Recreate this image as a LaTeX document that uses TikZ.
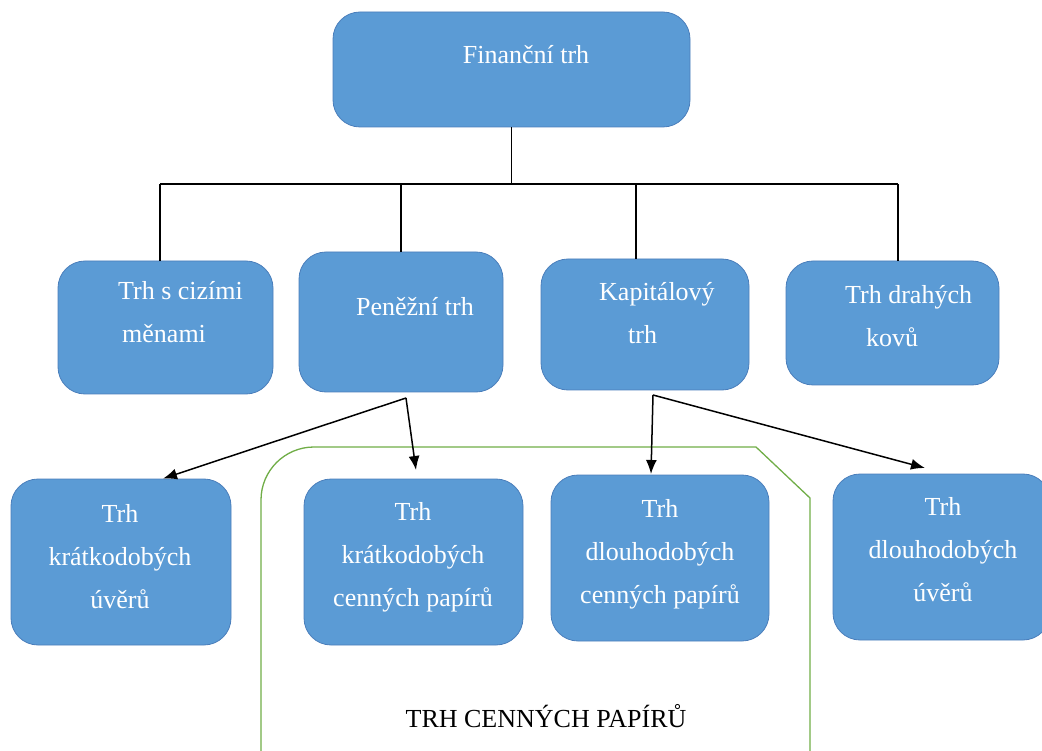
\documentclass[tikz,border=0pt]{standalone}
\usepackage{fontspec}
\setmainfont{Liberation Serif}
\usetikzlibrary{calc,arrows.meta}
\definecolor{boxblue}{HTML}{5B9BD5}
\definecolor{boxedge}{HTML}{4A7EBB}
\definecolor{framegreen}{HTML}{70AD47}
\tikzset{
  box/.style={draw=boxedge,fill=boxblue,line width=0.8pt,rounded corners=27pt,inner sep=0pt},
  boxtext/.style={text=white,font=\fontsize{26}{43}\selectfont,inner sep=0pt},
  link/.style={line width=1.5pt},
  arrowlink/.style={line width=1.5pt,-{Latex[length=14pt,width=11pt]}}
}
\begin{document}
\begin{tikzpicture}[x=1pt,y=-1pt]
\useasboundingbox (0,0) rectangle (1042,751);
		% frame of the securities market
		\draw[framegreen,line width=1.3pt] (261,770) -- (261,500) arc[start angle=180,end angle=90,radius=53pt] -- (756,447) -- (810,498) -- (810,770);
		\node (trhcp) at (546,716) {\fontsize{26}{30}\selectfont TRH CENNÝCH PAPÍRŮ};
		% boxes
		\node[box,minimum width=357pt,minimum height=115pt] (fin) at (511.5,69.5) {};
		\node[box,minimum width=215pt,minimum height=133pt] (cizi) at (165.5,327.5) {};
		\node[box,minimum width=204pt,minimum height=140pt] (penez) at (401,322) {};
		\node[box,minimum width=208pt,minimum height=131pt] (kapital) at (645,324.5) {};
		\node[box,minimum width=213pt,minimum height=124pt] (drahy) at (892.5,323) {};
		\node[box,minimum width=220pt,minimum height=166pt] (kratu) at (121,562) {};
		\node[box,minimum width=219pt,minimum height=166pt] (kratcp) at (413.5,562) {};
		\node[box,minimum width=218pt,minimum height=166pt] (dlcp) at (660,558) {};
		\node[box,minimum width=217pt,minimum height=166pt] (dlu) at (941.5,557) {};
		% texts
		\node[boxtext] (finT) at (526,55) {Finanční trh};
		\node[boxtext,anchor=west,align=left] (ciziT) at (118,312) {Trh s cizími\\\hspace*{4pt}měnami};
		\node[boxtext] (penezT) at (415,307) {Peněžní trh};
		\node[boxtext,anchor=west,align=left] (kapitalT) at (599,313) {Kapitálový\\\hspace*{29pt}trh};
		\node[boxtext,anchor=west,align=left] (drahyT) at (845,316) {Trh drahých\\\hspace*{21pt}kovů};
		\node[boxtext,align=center] (kratuT) at (120,557) {Trh\\krátkodobých\\úvěrů};
		\node[boxtext,align=center] (kratcpT) at (413,557) {Trh\\krátkodobých\\cenných papírů};
		\node[boxtext,align=center] (dlcpT) at (660,554) {Trh\\dlouhodobých\\cenných papírů};
		\node[boxtext,align=center] (dluT) at (943,550) {Trh\\dlouhodobých\\úvěrů};
		% tree lines
		\coordinate (busL) at (160,184);
		\coordinate (busR) at (898,184);
		\coordinate (kapTop) at (636,184);
		\draw[link] (fin.south) -- (fin.south |- busL);
		\draw[link] (busL) -- (busR);
		\draw[link] (busL) -- (busL |- cizi.north);
		\draw[link] (penez.north |- busL) -- (penez.north);
		\draw[link] (kapTop) -- (kapTop |- kapital.north);
		\draw[link] (busR) -- (busR |- drahy.north);
		% arrows
		\coordinate (penezFork) at (406,398);
		\coordinate (kapFork) at (653,395);
		\coordinate (kratuIn) at ($(kratu.north)+(42,0)$);
		\coordinate (kratcpIn) at (416,470);
		\coordinate (dlcpIn) at (651,474);
		\coordinate (dluIn) at (925,468);
		\draw[arrowlink] (penezFork) -- (kratuIn);
		\draw[arrowlink] (penezFork) -- (kratcpIn);
		\draw[arrowlink] (kapFork) -- (dlcpIn);
		\draw[arrowlink] (kapFork) -- (dluIn);
\end{tikzpicture}
\end{document}
